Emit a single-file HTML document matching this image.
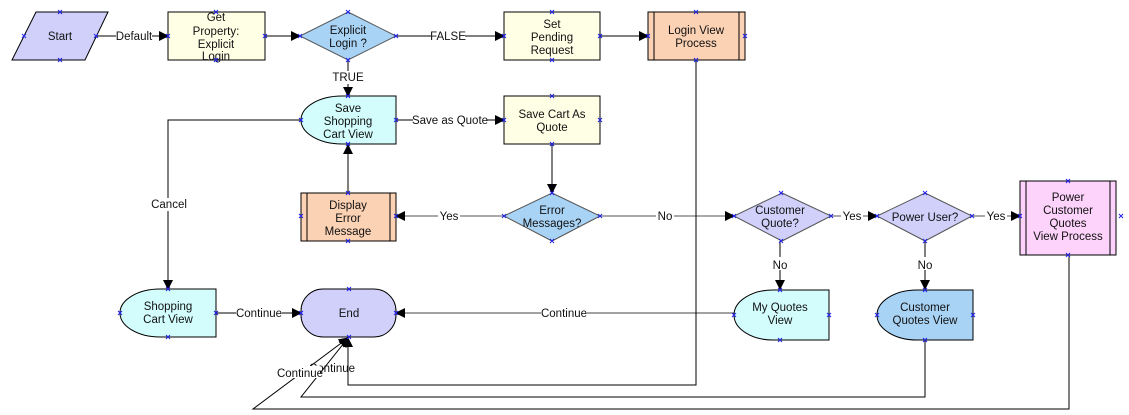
<!DOCTYPE html>
<html><head><meta charset="utf-8"><style>
html,body{margin:0;padding:0;background:#fff;width:1129px;height:415px;overflow:hidden}
svg{display:block}
text{font-family:"Liberation Sans",sans-serif;font-size:11.5px;fill:#111;text-anchor:middle}
.l{fill:#222}
</style></head><body>
<svg width="1129" height="415" viewBox="0 0 1129 415" xmlns="http://www.w3.org/2000/svg">
<defs>
<marker id="a" markerWidth="10" markerHeight="10" refX="9" refY="5" orient="auto" markerUnits="userSpaceOnUse"><path d="M0,0 L10,5 L0,10 Z" fill="#000"/></marker>
<symbol id="x" overflow="visible"><path d="M-2,-2 L2,2 M-2,2 L2,-2" stroke="#2222ee" stroke-width="1"/></symbol>
</defs>
<g stroke="#000" stroke-width="1" fill="none">
<!-- connectors -->
<path d="M85,36 H168" marker-end="url(#a)"/>
<path d="M265,36 H300" marker-end="url(#a)"/>
<path d="M396,36 H504" marker-end="url(#a)"/>
<path d="M600,36 H648" marker-end="url(#a)"/>
<path d="M348,60 V96" marker-end="url(#a)"/>
<path d="M396,120 H504" marker-end="url(#a)"/>
<path d="M552,144 V193" marker-end="url(#a)"/>
<path d="M348,192 V145" marker-end="url(#a)"/>
<path d="M504,216 H396" stroke="#555" marker-end="url(#a)"/>
<path d="M600,216 H734" stroke="#555" marker-end="url(#a)"/>
<path d="M831,216 H877" stroke="#555" marker-end="url(#a)"/>
<path d="M972,216 H1020" stroke="#555" marker-end="url(#a)"/>
<path d="M780,241 V289" marker-end="url(#a)"/>
<path d="M925,241 V289" marker-end="url(#a)"/>
<path d="M301,120 H168 V289" marker-end="url(#a)"/>
<path d="M216,313 H301" marker-end="url(#a)"/>
<path d="M734,313 H396" stroke="#444" marker-end="url(#a)"/>
<path d="M696,60 V385 H348 V338" marker-end="url(#a)"/>
<path d="M925,337 V397 H301 L348,338" marker-end="url(#a)"/>
<path d="M1069,255 V409 H253 L348,338" marker-end="url(#a)"/>
</g>
<!-- label backgrounds -->
<g fill="#fff">
<rect x="116" y="29" width="36" height="13"/>
<rect x="431" y="29" width="34" height="13"/>
<rect x="333" y="71" width="30" height="13"/>
<rect x="413" y="113" width="74" height="13"/>
<rect x="150" y="198" width="38" height="13"/>
<rect x="438" y="209" width="22" height="13"/>
<rect x="656" y="209" width="18" height="13"/>
<rect x="841" y="209" width="22" height="13"/>
<rect x="985" y="209" width="22" height="13"/>
<rect x="771" y="257" width="18" height="13"/>
<rect x="916" y="257" width="18" height="13"/>
<rect x="236" y="306" width="46" height="13"/>
<rect x="541" y="306" width="46" height="13"/>
</g>
<g class="l">
<text x="134" y="40">Default</text>
<text x="448" y="40">FALSE</text>
<text x="348" y="81">TRUE</text>
<text x="450" y="124">Save as Quote</text>
<text x="169" y="208">Cancel</text>
<text x="449" y="220">Yes</text>
<text x="665" y="220">No</text>
<text x="852" y="220">Yes</text>
<text x="996" y="220">Yes</text>
<text x="780" y="269">No</text>
<text x="925" y="269">No</text>
<text x="259" y="317">Continue</text>
<text x="564" y="317">Continue</text>
<text x="332" y="372">Continue</text>
<rect x="280" y="366" width="40" height="12" fill="#fff"/>
<text x="300" y="377">Continue</text>
</g>
<!-- shapes -->
<g stroke="#000" stroke-width="1">
<path d="M36,12 H108 L85,60 H12 Z" fill="#d0d0fb"/>
<rect x="168" y="12" width="97" height="48" fill="#ffffe6"/>
<path d="M348,12 L396,36 L348,60 L300,36 Z" fill="#a9d3f5" stroke="#555"/>
<rect x="504" y="12" width="96" height="48" fill="#ffffe6"/>
<rect x="648" y="12" width="97" height="48" fill="#fcd2b5"/>
<path d="M654,12 V60 M739,12 V60"/>
<path d="M396,96 H342 A41,24 0 0 0 342,144 H396 Z" fill="#d3fdfd"/>
<rect x="504" y="96" width="96" height="48" fill="#ffffe6"/>
<rect x="301" y="193" width="95" height="48" fill="#fcd2b5"/>
<path d="M307,193 V241 M390,193 V241"/>
<path d="M552,193 L600,216 L552,241 L504,216 Z" fill="#a9d3f5" stroke="#555"/>
<path d="M782,193 L831,216 L782,241 L734,216 Z" fill="#d0d0fb" stroke="#555"/>
<path d="M925,193 L972,216 L925,241 L877,216 Z" fill="#d0d0fb" stroke="#555"/>
<rect x="1020" y="181" width="96" height="74" fill="#fdd3fb"/>
<path d="M1026,181 V255 M1110,181 V255"/>
<path d="M216,289 H160 A40,24 0 0 0 160,337 H216 Z" fill="#d3fdfd"/>
<rect x="301" y="289" width="95" height="48" rx="22" ry="22" fill="#d0d0fb"/>
<path d="M829,290 H773 A39,25 0 0 0 773,340 H829 Z" fill="#d3fdfd"/>
<path d="M973,290 H917 A40,25 0 0 0 917,340 H973 Z" fill="#a9d3f5"/>
</g>
<!-- shape text -->
<g>
<text x="60" y="40">Start</text>
<text x="216" y="21">Get</text>
<text x="216" y="35">Property:</text>
<text x="216" y="48">Explicit</text>
<text x="216" y="60">Login</text>
<text x="348" y="34">Explicit</text>
<text x="348" y="47">Login ?</text>
<text x="552" y="28">Set</text>
<text x="552" y="41">Pending</text>
<text x="552" y="54">Request</text>
<text x="696" y="34">Login View</text>
<text x="696" y="47">Process</text>
<text x="348" y="112">Save</text>
<text x="348" y="125">Shopping</text>
<text x="348" y="138">Cart View</text>
<text x="552" y="118">Save Cart As</text>
<text x="552" y="131">Quote</text>
<text x="348" y="209">Display</text>
<text x="348" y="222">Error</text>
<text x="348" y="235">Message</text>
<text x="552" y="214">Error</text>
<text x="552" y="227">Messages?</text>
<text x="780" y="214">Customer</text>
<text x="780" y="227">Quote?</text>
<text x="925" y="221">Power User?</text>
<text x="1068" y="201">Power</text>
<text x="1068" y="214">Customer</text>
<text x="1068" y="227">Quotes</text>
<text x="1068" y="240">View Process</text>
<text x="168" y="310">Shopping</text>
<text x="168" y="323">Cart View</text>
<text x="349" y="317">End</text>
<text x="780" y="311">My Quotes</text>
<text x="780" y="324">View</text>
<text x="925" y="311">Customer</text>
<text x="925" y="324">Quotes View</text>
</g>
<!-- connection markers -->
<g>
<use href="#x" x="60" y="12"/><use href="#x" x="60" y="60"/><use href="#x" x="24" y="36"/><use href="#x" x="96" y="36"/>
<use href="#x" x="216" y="12"/><use href="#x" x="216" y="60"/><use href="#x" x="168" y="36"/><use href="#x" x="265" y="36"/>
<use href="#x" x="348" y="12"/><use href="#x" x="348" y="60"/><use href="#x" x="300" y="36"/><use href="#x" x="396" y="36"/>
<use href="#x" x="552" y="12"/><use href="#x" x="552" y="60"/><use href="#x" x="504" y="36"/><use href="#x" x="600" y="36"/>
<use href="#x" x="696" y="12"/><use href="#x" x="696" y="60"/><use href="#x" x="648" y="36"/><use href="#x" x="745" y="36"/>
<use href="#x" x="348" y="96"/><use href="#x" x="348" y="144"/><use href="#x" x="301" y="120"/><use href="#x" x="396" y="120"/>
<use href="#x" x="552" y="96"/><use href="#x" x="552" y="144"/><use href="#x" x="504" y="120"/><use href="#x" x="600" y="120"/>
<use href="#x" x="348" y="193"/><use href="#x" x="348" y="241"/><use href="#x" x="301" y="216"/><use href="#x" x="396" y="216"/>
<use href="#x" x="552" y="193"/><use href="#x" x="552" y="241"/><use href="#x" x="504" y="216"/><use href="#x" x="600" y="216"/>
<use href="#x" x="781" y="193"/><use href="#x" x="781" y="241"/><use href="#x" x="734" y="216"/><use href="#x" x="831" y="216"/>
<use href="#x" x="925" y="193"/><use href="#x" x="925" y="241"/><use href="#x" x="877" y="216"/><use href="#x" x="972" y="216"/>
<use href="#x" x="1068" y="181"/><use href="#x" x="1068" y="255"/><use href="#x" x="1020" y="216"/><use href="#x" x="1121" y="216"/>
<use href="#x" x="168" y="289"/><use href="#x" x="168" y="337"/><use href="#x" x="120" y="313"/><use href="#x" x="216" y="313"/>
<use href="#x" x="349" y="289"/><use href="#x" x="349" y="337"/><use href="#x" x="301" y="313"/><use href="#x" x="396" y="313"/>
<use href="#x" x="780" y="290"/><use href="#x" x="780" y="340"/><use href="#x" x="734" y="315"/><use href="#x" x="829" y="315"/>
<use href="#x" x="925" y="290"/><use href="#x" x="925" y="340"/><use href="#x" x="877" y="315"/><use href="#x" x="973" y="315"/>
</g>
</svg>
</body></html>
